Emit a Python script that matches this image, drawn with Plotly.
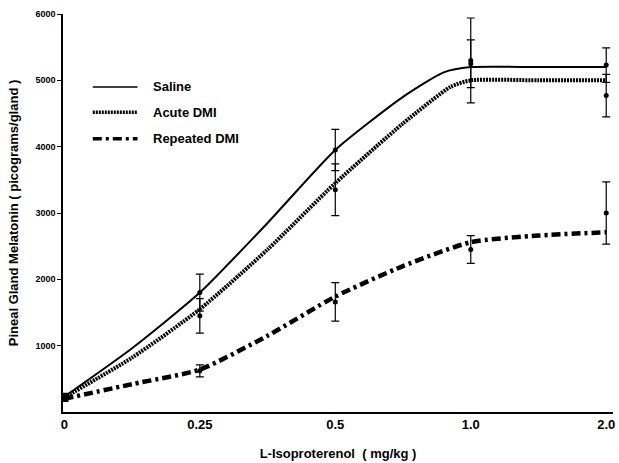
import plotly.graph_objects as go

# Dose categories (equally spaced on the axis)
doses = ["0", "0.25", "0.5", "1.0", "2.0"]
dose_pos = [0, 1, 2, 3, 4]

saline_mean = [230, 1800, 3950, 5250, 5230]
saline_err = [50, 280, 310, 360, 260]
acute_mean = [220, 1450, 3350, 5300, 4770]
acute_err = [50, 260, 390, 640, 320]
repeated_mean = [200, 620, 1660, 2450, 3000]
repeated_err = [40, 90, 290, 210, 470]

# Hand-drawn fitted curves (positions along dose axis)
saline_curve_x = [0, 0.5, 1, 1.5, 2, 2.5, 2.8, 3, 3.5, 4]
saline_curve_y = [230, 960, 1800, 2850, 3950, 4750, 5120, 5200, 5200, 5200]
acute_curve_x = [0, 0.5, 1, 1.5, 2, 2.5, 2.85, 3, 3.5, 4]
acute_curve_y = [220, 820, 1550, 2450, 3450, 4350, 4900, 5000, 5000, 5000]
repeated_curve_x = [0, 0.5, 1, 1.5, 2, 2.5, 3, 3.5, 4]
repeated_curve_y = [200, 420, 640, 1150, 1740, 2200, 2560, 2660, 2710]

series_names = ["Saline", "Acute DMI", "Repeated DMI"]
dashes = ["solid", "2px,1px", "9px,4px,3px,4px"]
widths = [2, 4, 4.5]

fig = go.Figure()

curves = [(saline_curve_x, saline_curve_y), (acute_curve_x, acute_curve_y),
          (repeated_curve_x, repeated_curve_y)]
for (cx, cy), d, w, n in zip(curves, dashes, widths, series_names):
    fig.add_trace(go.Scatter(x=cx, y=cy, mode="lines", name=n,
                             line=dict(color="black", width=w, dash=d, shape="spline", smoothing=0.6),
                             showlegend=False, hoverinfo="skip"))

for m, e in [(saline_mean, saline_err), (acute_mean, acute_err), (repeated_mean, repeated_err)]:
    fig.add_trace(go.Scatter(x=dose_pos, y=m, mode="markers",
                             marker=dict(color="black", size=5),
                             error_y=dict(type="data", array=e, visible=True, color="black",
                                          thickness=1.2, width=4),
                             showlegend=False))

# Legend drawn inside the plot
leg_y = [4900, 4520, 4120]
for n, d, w, yy in zip(series_names, dashes, widths, leg_y):
    fig.add_shape(type="line", x0=0.21, x1=0.54, y0=yy, y1=yy, xref="x", yref="y",
                  line=dict(color="black", width=min(w, 3.5) if d != "solid" else 1.6, dash=d))
    fig.add_annotation(x=0.64, y=yy, xref="x", yref="y", text=n, showarrow=False,
                       xanchor="left", yanchor="middle",
                       font=dict(family="Liberation Sans, Arial", size=13, color="black", weight="bold"))

fig.update_layout(
    width=619, height=463,
    margin=dict(l=63, r=4, t=14, b=51),
    paper_bgcolor="white", plot_bgcolor="white",
    font=dict(family="Liberation Sans, Arial", color="black"),
    xaxis=dict(range=[-0.01, 4.05], tickmode="array", tickvals=dose_pos, ticktext=doses,
               showgrid=False, zeroline=False, showline=True, linecolor="black", linewidth=1.5,
               ticks="", tickfont=dict(size=13, weight="bold"),
               title=dict(text="L-Isoproterenol  ( mg/kg )", font=dict(size=13, weight="bold"),
                          standoff=18)),
    yaxis=dict(range=[0, 6000], tickmode="array", tickvals=[1000, 2000, 3000, 4000, 5000, 6000],
               showgrid=False, zeroline=False, showline=True, linecolor="black", linewidth=1.5,
               ticks="outside", ticklen=4, tickwidth=1.2, tickcolor="black",
               tickfont=dict(size=9, weight="bold"),
               title=dict(text="Pineal Gland Melatonin ( picograms/gland )",
                          font=dict(size=13, weight="bold"), standoff=14)),
)

fig.write_html("out.html")
